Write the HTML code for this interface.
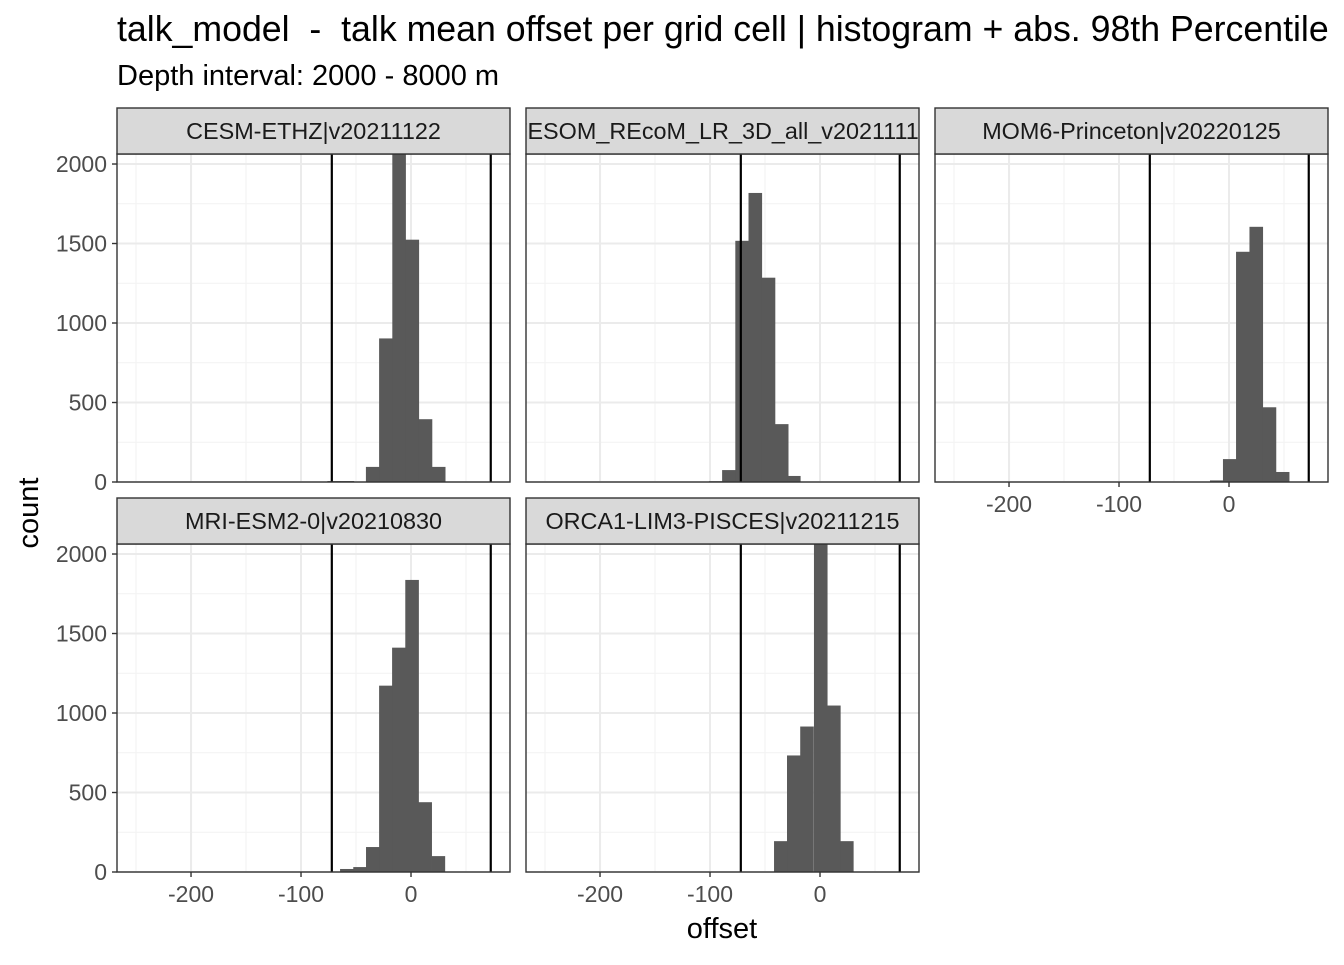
<!DOCTYPE html>
<html><head><meta charset="utf-8"><style>
body{margin:0;background:#fff;width:1344px;height:960px;overflow:hidden}
svg text{font-family:"Liberation Sans",sans-serif;white-space:pre}
</style></head><body>
<svg id="chart" width="1344" height="960" xmlns="http://www.w3.org/2000/svg">
<text x="117" y="41" font-size="35.7" fill="#000" xml:space="preserve">talk_model  -  talk mean offset per grid cell | histogram + abs. 98th Percentile</text>
<text x="117" y="85" font-size="29" fill="#000">Depth interval: 2000 - 8000 m</text>
<text transform="translate(38,513) rotate(-90)" text-anchor="middle" font-size="29">count</text>
<text x="722" y="938" text-anchor="middle" font-size="29">offset</text>
</svg>
<script>
const panelNames = ["CESM-ETHZ|v20211122","FESOM_REcoM_LR_3D_all_v20211119","MOM6-Princeton|v20220125","MRI-ESM2-0|v20210830","ORCA1-LIM3-PISCES|v20211215"];
const binWidth = 11.9;
const binLefts1 = [-76,-64,-41,-29,-17,-5,7,19];
const counts1 = [6,6,95,903,2100,1524,395,95];
const binLefts2 = [-101,-89,-77,-65,-53,-41,-30];
const counts2 = [5,75,1517,1818,1285,364,38];
const binLefts3 = [-17.3,-5.5,6.4,18.6,30.6,42.6];
const counts3 = [10,144,1448,1605,470,63];
const binLefts4 = [-64.5,-52.5,-40.9,-29,-17.2,-5.2,6.7,18.7];
const counts4 = [19,31,157,1172,1411,1837,439,100];
const binLefts5 = [-41.8,-30,-18,-5.5,6.4,18.2];
const counts5 = [194,733,915,2100,1047,194];
const percentileLines = [[-72,72.5],[-72,72.5],[-72,72.5],[-72,72.5],[-72,72.5]];
const xTicks = [-200,-100,0];
const xTickLabels = ["-200","-100","0"];
const yTicks = [0,500,1000,1500,2000];
const yTickLabels = ["0","500","1000","1500","2000"];

const lefts=[binLefts1,binLefts2,binLefts3,binLefts4,binLefts5];
const cnts=[counts1,counts2,counts3,counts4,counts5];
const svg=document.getElementById('chart');
const NS="http://www.w3.org/2000/svg";
function mk(t,a,p){const e=document.createElementNS(NS,t);for(const k in a)e.setAttribute(k,a[k]);(p||svg).appendChild(e);return e;}
const xMin=-267.3,xMax=90,yMax=2063;
const layout=[{x:117,y:154,lx:false,ly:true},{x:526,y:154,lx:false,ly:false},{x:935,y:154,lx:true,ly:false},{x:117,y:544,lx:true,ly:true},{x:526,y:544,lx:true,ly:false}];
const W=393,H=328;
layout.forEach((L,i)=>{
  const g=mk('g',{});
  
  
  const xs=v=>L.x+(v-xMin)/(xMax-xMin)*W;
  const ys=v=>L.y+H-v/yMax*H;
  const cp=mk('clipPath',{id:'cp'+i},g);mk('rect',{x:L.x,y:L.y,width:W,height:H},cp);
  mk('rect',{x:L.x,y:L.y,width:W,height:H,fill:'#fff'},g);
  [-250,-150,-50,50].forEach(v=>mk('line',{x1:xs(v),x2:xs(v),y1:L.y,y2:L.y+H,stroke:'#f2f2f2','stroke-width':1},g));
  [250,750,1250,1750].forEach(v=>mk('line',{x1:L.x,x2:L.x+W,y1:ys(v),y2:ys(v),stroke:'#f2f2f2','stroke-width':1},g));
  xTicks.forEach(v=>mk('line',{x1:xs(v),x2:xs(v),y1:L.y,y2:L.y+H,stroke:'#ebebeb','stroke-width':2},g));
  yTicks.forEach(v=>mk('line',{x1:L.x,x2:L.x+W,y1:ys(v),y2:ys(v),stroke:'#ebebeb','stroke-width':2},g));
  const bg=mk('g',{'clip-path':'url(#cp'+i+')'},g);
  lefts[i].forEach((l,j)=>{
    const r=mk('rect',{x:xs(l),y:ys(cnts[i][j]),width:xs(l+binWidth)-xs(l)+0.5,height:ys(0)-ys(cnts[i][j]),fill:'#595959'},bg);
    
    
  });
  percentileLines[i].forEach(v=>{
    const ln=mk('line',{x1:xs(v),x2:xs(v),y1:L.y,y2:L.y+H,stroke:'#000','stroke-width':2.2},g);
    
    
  });
  mk('rect',{x:L.x,y:L.y,width:W,height:H,fill:'none',stroke:'#333','stroke-width':1.4},g);
  const s=mk('rect',{x:L.x,y:L.y-46,width:W,height:46,fill:'#d9d9d9',stroke:'#333','stroke-width':1.4},g);
  
  
  const sc=mk('clipPath',{id:'sc'+i},g);mk('rect',{x:L.x,y:L.y-46,width:W,height:46},sc);
  const st=mk('text',{x:L.x+W/2,y:L.y-15,'text-anchor':'middle','font-size':23.4,fill:'#1a1a1a','clip-path':'url(#sc'+i+')'},g);
  st.textContent=panelNames[i];
  
  
  if(L.ly){yTicks.forEach((v,k)=>{
    mk('line',{x1:L.x-5,x2:L.x,y1:ys(v),y2:ys(v),stroke:'#333','stroke-width':1.4},g);
    const t=mk('text',{x:L.x-10,y:ys(v)+8,'text-anchor':'end','font-size':23,fill:'#4d4d4d'},g);
    t.textContent=yTickLabels[k];
    
    
  });}
  if(L.lx){xTicks.forEach((v,k)=>{
    mk('line',{x1:xs(v),x2:xs(v),y1:L.y+H,y2:L.y+H+5,stroke:'#333','stroke-width':1.4},g);
    const t=mk('text',{x:xs(v),y:L.y+H+30,'text-anchor':'middle','font-size':23,fill:'#4d4d4d'},g);
    t.textContent=xTickLabels[k];
    
    
  });}
});
</script>
</body></html>
